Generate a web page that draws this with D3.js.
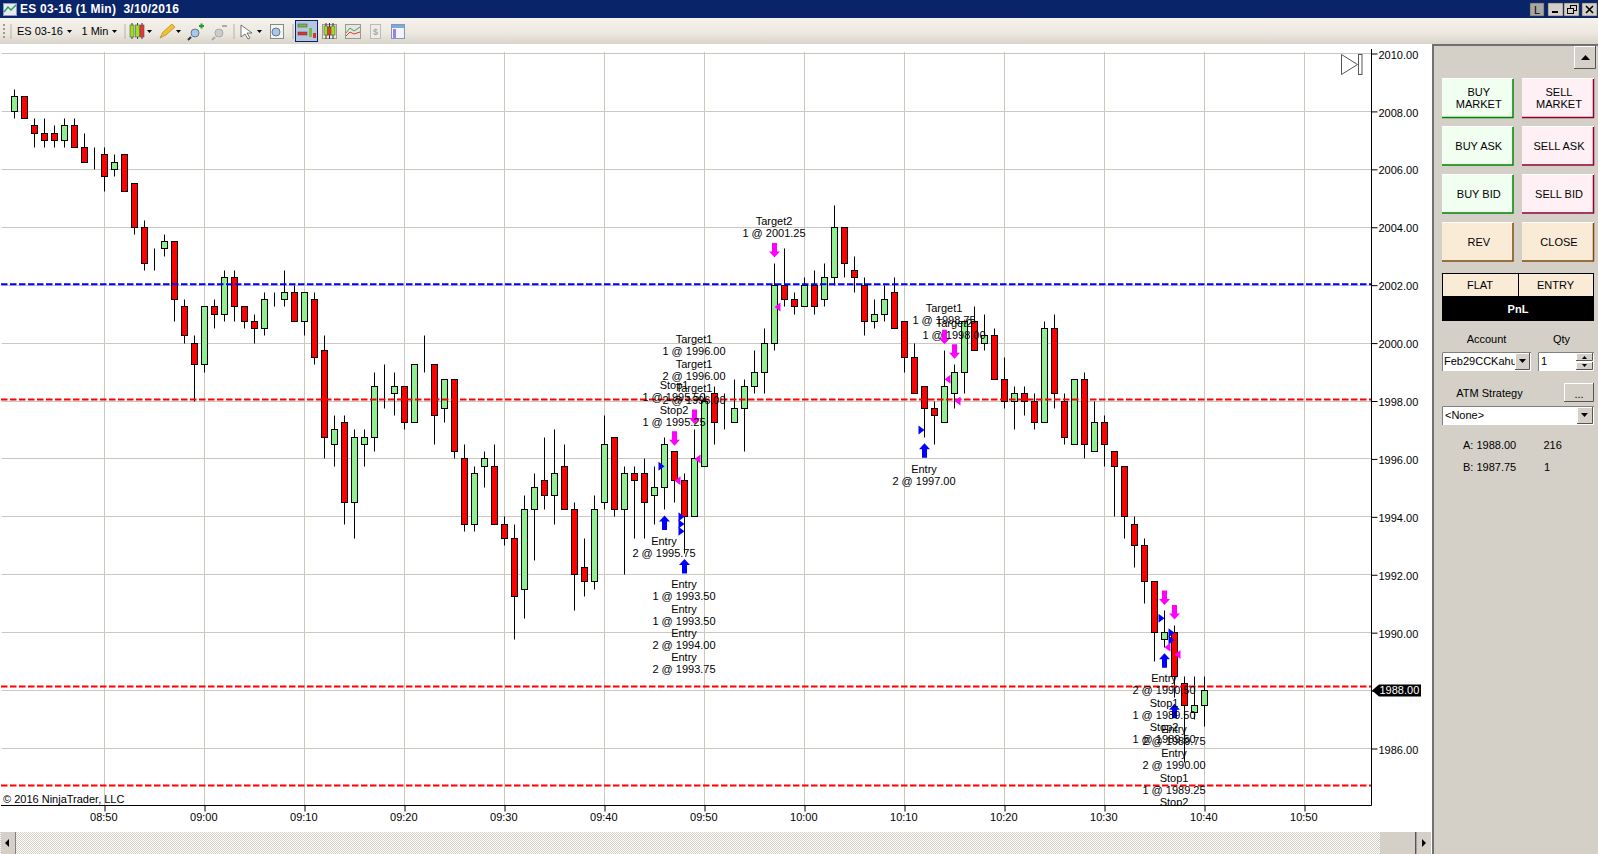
<!DOCTYPE html>
<html>
<head>
<meta charset="utf-8">
<title>ES 03-16 (1 Min)</title>
<script src="https://cdn.jsdelivr.net/npm/d3@7"></script>
<style>
  html, body { margin: 0; padding: 0; background: #fff; overflow: hidden; }
  svg { display: block; }
  text { font-family: "Liberation Sans", Arial, sans-serif; font-size: 11px; fill: #000; }
</style>
</head>
<body>
<svg id="chart" width="1598" height="854"></svg>
<script>
// one bar per minute, first bar is 08:41
var firstBar = "08:41"

var opens = [
  2008, 2008.5, 2007.5, 2007.25, 2007.25, 2007, 2007.5, 2006.75, 2006.25, 2006.5,
  2006, 2006.5, 2005.5, 2004, 2003, 2003.25, 2003.5, 2001.25, 2000, 1999.25,
  2001.25, 2001, 2002.25, 2001.25, 2000.75, 2000.5, 2001.5, 2001.5, 2001.75, 2000.75,
  2001.5, 1999.75, 1996.5, 1997.25, 1994.5, 1996.5, 1996.75, 1998.25, 1998.25, 1998.5,
  1997.25, 1999.25, 1999.25, 1997.75, 1998.75, 1996, 1993.75, 1995.75, 1995.75, 1993.75,
  1993.25, 1991.5, 1994.25, 1995.25, 1994.75, 1995.75, 1994.25, 1992.25, 1991.75, 1994.5,
  1996.75, 1994.25, 1995.5, 1995.5, 1994.75, 1995, 1996.25, 1995.25, 1994, 1995.75,
  1998.25, 1997.25, 1997.25, 1997.75, 1998.5, 1999, 2000, 2002, 2001.5, 2001.25,
  2002, 2001.5, 2002.25, 2004, 2002.5, 2002, 2000.75, 2001, 2001.75, 2000.75,
  1999.5, 1998.5, 1997.75, 1997.25, 1998.25, 1999, 2000.75, 2000, 2000.25, 1998.75,
  1998, 1998.25, 1998, 1997.25, 2000.5, 1998, 1996.5, 1998.75, 1996.25, 1997.25,
  1996.25, 1995.75, 1993.75, 1993, 1991.75, 1989.75, 1990, 1988.25, 1987.25, 1987.5
]

var highs = [
  2008.75, 2008.5, 2007.75, 2007.75, 2007.5, 2007.75, 2007.75, 2007.25, 2006.75, 2006.75,
  2006.5, 2006.5, 2005.5, 2004.25, 2003.25, 2003.75, 2003.5, 2001.5, 2000.25, 2001.25,
  2001.5, 2002.5, 2002.5, 2001.25, 2001, 2001.75, 2001.75, 2002.5, 2002, 2001.75,
  2001.75, 2000.25, 1997.5, 1997.5, 1997, 1997, 1999, 1999.25, 1999, 1998.5,
  1999.25, 2000.25, 1999.25, 1998.75, 1998.75, 1996.5, 1995.75, 1996.25, 1996.5, 1994,
  1993.75, 1994.75, 1995.5, 1996.75, 1997, 1996.5, 1994.5, 1993.25, 1994.75, 1997.5,
  1996.75, 1995.75, 1995.75, 1996, 1995.75, 1996.75, 1996.25, 1995.5, 1997, 1998.25,
  1998.5, 1998.25, 1998.75, 1998.75, 1999.75, 2000.5, 2002.75, 2003.25, 2001.75, 2002.25,
  2002.5, 2002.75, 2004.75, 2004, 2003, 2002.25, 2001.5, 2002, 2002.25, 2000.75,
  2000, 1998.5, 1998, 1999.75, 1999.25, 2000.75, 2001.25, 2001, 2000.5, 1999.5,
  1998.5, 1998.5, 1998.25, 2000.75, 2001, 1998.25, 1998.75, 1999, 1998, 1997.5,
  1996.25, 1995.75, 1994, 1993.25, 1991.75, 1990.75, 1990.25, 1988.5, 1988.5, 1988.5
]

var lows = [
  2007.75, 2007.75, 2006.75, 2006.75, 2006.75, 2006.75, 2006.75, 2006.25, 2006, 2005.25,
  2005.75, 2005.25, 2003.75, 2002.5, 2002.5, 2003, 2000.75, 2000, 1998, 1999,
  2000.5, 2000.75, 2000.75, 2000.5, 2000, 2000.25, 2001.25, 2001.25, 2000.75, 2000.25,
  1999.25, 1996, 1995.75, 1993.75, 1993.25, 1995.75, 1996.25, 1997.75, 1997.5, 1997,
  1997.25, 1999, 1996.5, 1997.25, 1996, 1993.5, 1993.5, 1995, 1993.75, 1993,
  1989.75, 1990.5, 1992.5, 1994.25, 1993.75, 1994.25, 1990.75, 1991.25, 1991.5, 1994.25,
  1994, 1992, 1993.25, 1993.25, 1993.75, 1994.25, 1994.5, 1992.75, 1994, 1995.75,
  1996.5, 1997, 1997.25, 1996.25, 1998.25, 1998.25, 1999.75, 2001.25, 2001, 2001.25,
  2001, 2001.25, 2002, 2002.25, 2001.75, 2000.25, 2000.5, 2000.75, 2000.5, 1999,
  1998.25, 1996.75, 1996.5, 1997.25, 1997.75, 1998.25, 1999.75, 1999.75, 1998.75, 1997.75,
  1997, 1997.5, 1997, 1997.25, 1997.75, 1996.5, 1996.5, 1996, 1996.25, 1995.75,
  1994, 1993.25, 1992.25, 1991, 1989, 1989.5, 1987.75, 1985.5, 1987, 1986.75
]

var closes = [
  2008.5, 2007.75, 2007.25, 2007, 2007, 2007.5, 2006.75, 2006.25, 2006.25, 2005.75,
  2006.25, 2005.25, 2004, 2002.75, 2003, 2003.5, 2001.5, 2000.25, 1999.25, 2001.25,
  2001, 2002.25, 2001.25, 2000.75, 2000.5, 2001.5, 2001.5, 2001.75, 2000.75, 2001.75,
  1999.5, 1996.75, 1997, 1994.5, 1996.75, 1996.75, 1998.5, 1998.25, 1998.5, 1997.25,
  1999.25, 1999.25, 1997.5, 1998.75, 1996.25, 1993.75, 1995.5, 1996, 1993.75, 1993.25,
  1991.25, 1994.25, 1995, 1994.75, 1995.5, 1994.25, 1992, 1991.75, 1994.25, 1996.5,
  1994.25, 1995.5, 1995.25, 1994.5, 1995, 1996.5, 1995.25, 1994, 1996, 1998,
  1997.25, 1997.25, 1997.75, 1998.5, 1999, 2000, 2002, 2001.5, 2001.25, 2002,
  2001.25, 2002.25, 2004, 2002.75, 2002.25, 2000.75, 2001, 2001.5, 2000.5, 1999.5,
  1998.25, 1997.75, 1997.5, 1998.5, 1999, 2000.75, 1999.75, 2000.25, 1998.75, 1998,
  1998.25, 1998, 1997.25, 2000.5, 1998.25, 1996.75, 1998.75, 1996.5, 1997.25, 1996.5,
  1995.75, 1994, 1993, 1991.75, 1990, 1990, 1988.5, 1987.5, 1987.5, 1988
]

var priceTicks = [1986, 1988, 1990, 1992, 1994, 1996, 1998, 2000, 2002, 2004, 2006, 2008, 2010]
var timeTicks = ["08:50", "09:00", "09:10", "09:20", "09:30", "09:40", "09:50", "10:00", "10:10", "10:20", "10:30", "10:40", "10:50"]

// drawn horizontal lines
var bluePrices = [2002.03]
var redPrices = [1998.05, 1988.14, 1984.72]
var lastPrice = 1988

// trade arrows
var entryBars = ["09:46", "09:48", "10:12", "10:36", "10:37"]
var exitBars = ["09:47", "09:49", "09:57", "10:14", "10:15", "10:36", "10:37"]

// small fill triangles
var entryFillBars = ["09:46", "09:48", "09:48", "09:48", "10:12", "10:36", "10:37", "10:37"]
var entryFillPrices = [1995.75, 1994, 1993.75, 1993.5, 1997, 1990.5, 1990, 1989.75]
var exitFillBars = ["09:47", "09:49", "09:57", "10:14", "10:15", "10:36", "10:37"]
var exitFillPrices = [1995.25, 1996, 2001.25, 1998.75, 1998, 1989.5, 1989.25]

// trade texts, below the entry arrows and above the exit arrows
var entryTexts = [
  ["Entry", "2 @ 1995.75"],
  ["Entry", "1 @ 1993.50", "Entry", "1 @ 1993.50", "Entry", "2 @ 1994.00", "Entry", "2 @ 1993.75"],
  ["Entry", "2 @ 1997.00"],
  ["Entry", "2 @ 1990.50", "Stop1", "1 @ 1989.50", "Stop2", "1 @ 1989.50"],
  ["Entry", "2 @ 1989.75", "Entry", "2 @ 1990.00", "Stop1", "1 @ 1989.25", "Stop2", "1 @ 1989.25"]
]
var exitTexts = [
  ["Stop1", "1 @ 1995.50", "Stop2", "1 @ 1995.25"],
  ["Target1", "1 @ 1996.00", "Target1", "2 @ 1996.00", "Target1", "2 @ 1996.00"],
  ["Target2", "1 @ 2001.25"],
  ["Target1", "1 @ 1998.75"],
  ["Target2", "1 @ 1998.00"],
  [],
  []
]

var svg = d3.select("#chart")
var parseTime = d3.timeParse("%H:%M")

var plotRight = 1371.5
var plotBottom = 805.5
var plotTop = 44

// 100px per ten minutes, 28.96px per point
var x = d3.scaleTime()
  .domain([parseTime("08:50"), parseTime("10:50")])
  .range([104.5, 1304.5])

var y = d3.scaleLinear()
  .domain([1986, 2010])
  .range([748.5, 53.5])

var startBar = parseTime(firstBar)
var bars = opens.map(function(o, i) {
  return {
    time: d3.timeMinute.offset(startBar, i),
    open: o, high: highs[i], low: lows[i], close: closes[i]
  }
})

function barByLabel(label) {
  var t = parseTime(label)
  return bars.find(function(b) { return +b.time === +t })
}

function py(v) { return Math.round(y(v) - 0.5) + 0.5 }

var defs = svg.append("defs")

defs.append("clipPath").attr("id", "plotClip").append("rect")
  .attr("x", 0).attr("y", plotTop).attr("width", plotRight).attr("height", plotBottom - plotTop)

var dither = defs.append("pattern").attr("id", "dither")
  .attr("width", 2).attr("height", 2).attr("patternUnits", "userSpaceOnUse")
dither.append("rect").attr("width", 2).attr("height", 2).attr("fill", "#ffffff")
dither.append("rect").attr("width", 1).attr("height", 1).attr("fill", "#d4d0c8")
dither.append("rect").attr("x", 1).attr("y", 1).attr("width", 1).attr("height", 1).attr("fill", "#d4d0c8")

var toolGrad = defs.append("linearGradient").attr("id", "toolGrad").attr("x2", 0).attr("y2", 1)
toolGrad.append("stop").attr("offset", 0).attr("stop-color", "#f5f2ec")
toolGrad.append("stop").attr("offset", 0.6).attr("stop-color", "#ece8e0")
toolGrad.append("stop").attr("offset", 1).attr("stop-color", "#d8d4ca")

/* ---- plot ---- */
svg.append("rect").attr("width", 1598).attr("height", 854).attr("fill", "#fff")

var grid = svg.append("g").attr("stroke", "#cbc9bf").attr("stroke-width", 1)

grid.selectAll(".h").data(priceTicks).enter().append("line")
  .attr("class", "h")
  .attr("x1", 1.5).attr("x2", plotRight)
  .attr("y1", py).attr("y2", py)

grid.selectAll(".v").data(timeTicks).enter().append("line")
  .attr("class", "v")
  .attr("x1", function(d) { return x(parseTime(d)) })
  .attr("x2", function(d) { return x(parseTime(d)) })
  .attr("y1", 52).attr("y2", plotBottom)

var plot = svg.append("g").attr("clip-path", "url(#plotClip)")

// wicks first, bodies over them
var candle = plot.selectAll(".bar").data(bars).enter().append("g").attr("class", "bar")

candle.append("line")
  .attr("x1", function(d) { return x(d.time) })
  .attr("x2", function(d) { return x(d.time) })
  .attr("y1", function(d) { return py(d.high) })
  .attr("y2", function(d) { return py(d.low) })
  .attr("stroke", "#000")

candle.append("rect")
  .attr("x", function(d) { return x(d.time) - 3 })
  .attr("width", 6)
  .attr("y", function(d) { return py(Math.max(d.open, d.close)) })
  .attr("height", function(d) { return py(Math.min(d.open, d.close)) - py(Math.max(d.open, d.close)) })
  .attr("fill", function(d) { return d.close > d.open ? "#90ee90" : "#ff0000" })
  .attr("stroke", "#000")
  .attr("stroke-width", 1)
  .attr("shape-rendering", "crispEdges")

function hLines(values, color) {
  plot.selectAll(".l" + color.slice(1)).data(values).enter().append("line")
    .attr("class", "l" + color.slice(1))
    .attr("x1", 1).attr("x2", plotRight)
    .attr("y1", y).attr("y2", y)
    .attr("stroke", color)
    .attr("stroke-width", 2)
    .attr("stroke-dasharray", "6.5,2.5")
}
hLines(bluePrices, "#0000ff")
hLines(redPrices, "#ff0000")

// tip at 0,0, pointing up
var arrowPath = d3.path()
arrowPath.moveTo(0, 0)
arrowPath.lineTo(5.5, 6)
arrowPath.lineTo(2.5, 6)
arrowPath.lineTo(2.5, 14.5)
arrowPath.lineTo(-2.5, 14.5)
arrowPath.lineTo(-2.5, 6)
arrowPath.lineTo(-5.5, 6)
arrowPath.closePath()

plot.selectAll(".entryArrow").data(entryBars).enter().append("path")
  .attr("class", "entryArrow")
  .attr("d", arrowPath.toString())
  .attr("fill", "#0000ff")
  .attr("transform", function(d) {
    var b = barByLabel(d)
    return "translate(" + x(b.time) + "," + (y(b.low) + 6) + ")"
  })

plot.selectAll(".exitArrow").data(exitBars).enter().append("path")
  .attr("class", "exitArrow")
  .attr("d", arrowPath.toString())
  .attr("fill", "#ff00ff")
  .attr("transform", function(d) {
    var b = barByLabel(d)
    return "translate(" + x(b.time) + "," + (y(b.high) - 6) + ") scale(1,-1)"
  })

plot.selectAll(".entryFill").data(entryFillBars).enter().append("path")
  .attr("class", "entryFill")
  .attr("d", "M0,0L-6,-4.5L-6,4.5Z")
  .attr("fill", "#0000ff")
  .attr("transform", function(d, i) {
    return "translate(" + x(parseTime(d)) + "," + y(entryFillPrices[i]) + ")"
  })

plot.selectAll(".exitFill").data(exitFillBars).enter().append("path")
  .attr("class", "exitFill")
  .attr("d", "M0,0L6,-4.5L6,4.5Z")
  .attr("fill", "#ff00ff")
  .attr("transform", function(d, i) {
    return "translate(" + x(parseTime(d)) + "," + y(exitFillPrices[i]) + ")"
  })

// text stacks: 12px per line, pairs are a little further apart
function stackY(k) { return Math.floor(k / 2) * 24.3 + (k % 2) * 12 }

entryBars.forEach(function(label, n) {
  var b = barByLabel(label)
  var top = y(b.low) + 6 + 14.5 + 11
  entryTexts[n].forEach(function(t, k) {
    plot.append("text")
      .attr("x", x(b.time) - 0.5).attr("y", top + stackY(k)).attr("dy", "0.35em")
      .attr("text-anchor", "middle")
      .text(t)
  })
})

exitBars.forEach(function(label, n) {
  var b = barByLabel(label)
  var bottom = y(b.high) - 6 - 14.5 - 9.5
  var lines = exitTexts[n]
  lines.forEach(function(t, k) {
    plot.append("text")
      .attr("x", x(b.time) - 0.5)
      .attr("y", bottom - (stackY(lines.length - 1) - stackY(k))).attr("dy", "0.35em")
      .attr("text-anchor", "middle")
      .text(t)
  })
})

svg.append("text").attr("x", 3).attr("y", 799.5).attr("dy", "0.35em").text("© 2016 NinjaTrader, LLC")

/* ---- axes ---- */
var xAxis = d3.axisBottom(x)
  .tickValues(timeTicks.map(parseTime))
  .tickFormat(d3.timeFormat("%H:%M"))
  .tickSize(6)
  .tickPadding(2)

var yAxis = d3.axisRight(y)
  .tickValues(priceTicks)
  .tickFormat(d3.format(".2f"))
  .tickSize(6)
  .tickPadding(1)

var xg = svg.append("g").attr("transform", "translate(0," + plotBottom + ")").call(xAxis)
var yg = svg.append("g").attr("transform", "translate(" + plotRight + ",0)").call(yAxis)

xg.select(".domain").remove()
yg.select(".domain").remove()
xg.attr("font-family", null).attr("font-size", null)
yg.attr("font-family", null).attr("font-size", null)
xg.selectAll("text").attr("dx", -1.2)
yg.selectAll("text").attr("dy", "0.42em")

svg.append("path")
  .attr("d", "M1," + plotBottom + "H" + plotRight + "V49")
  .attr("fill", "none").attr("stroke", "#000")

// last price flag
var flagY = y(lastPrice)
svg.append("path")
  .attr("d", "M1372," + flagY + "l7,-6h42v12h-42z")
  .attr("fill", "#000")
svg.append("text")
  .attr("x", 1379.5).attr("y", flagY).attr("dy", "0.35em")
  .style("fill", "#fff")
  .text(d3.format(".2f")(lastPrice))

// the ">|" marker top right of the plot
svg.append("path").attr("d", "M1341.5,54.5L1357.5,64.5L1341.5,74.5Z")
  .attr("fill", "#fff").attr("stroke", "#555")
svg.append("rect").attr("x", 1358.5).attr("y", 54.5).attr("width", 3.5).attr("height", 20)
  .attr("fill", "#fff").attr("stroke", "#555")

/* ---- window chrome ---- */
svg.append("rect").attr("width", 1598).attr("height", 18).attr("fill", "#0a246a")
svg.append("text").attr("x", 20).attr("y", 9).attr("dy", "0.35em")
  .style("fill", "#fff").style("font-weight", "bold").style("font-size", "12px").style("letter-spacing", "0.26px")
  .text("ES 03-16 (1 Min)\u00a0\u00a03/10/2016")

// window icon
svg.append("rect").attr("x", 3.5).attr("y", 3.5).attr("width", 13).attr("height", 12).attr("fill", "#e8e8f4").attr("stroke", "#8a9ac0")
svg.append("path").attr("d", "M4,12L8,7L11,10L16,5").attr("fill", "none").attr("stroke", "#2aa050").attr("stroke-width", 1.5)

function winButton(bx, w, fill) {
  svg.append("rect").attr("x", bx).attr("y", 3).attr("width", w).attr("height", 13)
    .attr("fill", fill).attr("stroke", "#404040").attr("stroke-width", 0.5)
}
winButton(1530, 14, "#a8a8a0")
winButton(1548, 15, "#d4d0c8")
winButton(1564, 15, "#d4d0c8")
winButton(1582, 15, "#d4d0c8")
svg.append("text").attr("x", 1537).attr("y", 10).attr("dy", "0.35em").attr("text-anchor", "middle").text("L")
svg.append("rect").attr("x", 1552).attr("y", 11).attr("width", 6).attr("height", 2).attr("fill", "#000")
svg.append("rect").attr("x", 1570.5).attr("y", 5.5).attr("width", 6).attr("height", 5).attr("fill", "none").attr("stroke", "#000")
svg.append("rect").attr("x", 1567.5).attr("y", 8.5).attr("width", 6).attr("height", 5).attr("fill", "#d4d0c8").attr("stroke", "#000")
svg.append("path").attr("d", "M1586,6L1593,13M1593,6L1586,13").attr("stroke", "#000").attr("stroke-width", 1.6)

// toolbar
svg.append("rect").attr("y", 18).attr("width", 1598).attr("height", 26).attr("fill", "url(#toolGrad)")

function sep(sx) {
  svg.append("line").attr("x1", sx).attr("x2", sx).attr("y1", 24).attr("y2", 39).attr("stroke", "#b5b2a8")
}
function dropDown(dx) {
  svg.append("path").attr("d", "M" + dx + ",30h5l-2.5,3z").attr("fill", "#000")
}
sep(11); sep(125); sep(234); sep(293)
svg.selectAll(".grip").data([22, 26, 30, 34]).enter().append("rect").attr("class", "grip")
  .attr("x", 3).attr("y", function(d) { return d + 2 }).attr("width", 2).attr("height", 2).attr("fill", "#a09c90")

svg.append("text").attr("x", 17).attr("y", 31).attr("dy", "0.35em").text("ES 03-16")
svg.append("text").attr("x", 81.5).attr("y", 31).attr("dy", "0.35em").text("1 Min")
dropDown(67); dropDown(112); dropDown(147); dropDown(176); dropDown(257)

// toolbar candles icon
function toolCandle(cx, top, h, fill) {
  svg.append("line").attr("x1", cx).attr("x2", cx).attr("y1", 23).attr("y2", 39).attr("stroke", "#333")
  svg.append("rect").attr("x", cx - 2).attr("y", top).attr("width", 4).attr("height", h)
    .attr("fill", fill).attr("stroke", "#555").attr("stroke-width", 0.6)
}
toolCandle(132, 25, 12, "#9ce01c"); toolCandle(137.5, 25, 12, "#9ce01c"); toolCandle(142, 25, 12, "#ee3333")

// pencil
svg.append("path").attr("d", "M160,38L163,32L172,24L175,27L166,35Z").attr("fill", "#f5c030").attr("stroke", "#a07818").attr("stroke-width", 0.6)
// zoom in, zoom out
svg.append("circle").attr("cx", 195).attr("cy", 33).attr("r", 4).attr("fill", "#a8c8e8").attr("stroke", "#607890")
svg.append("path").attr("d", "M191,37L188,40").attr("stroke", "#333").attr("stroke-width", 2)
svg.append("path").attr("d", "M199,26h5M201.5,23.5v5").attr("stroke", "#20a030").attr("stroke-width", 2)
svg.append("circle").attr("cx", 219).attr("cy", 33).attr("r", 4).attr("fill", "#ccc").attr("stroke", "#aaa")
svg.append("path").attr("d", "M215,37L212,40").attr("stroke", "#aaa").attr("stroke-width", 2)
svg.append("path").attr("d", "M222,26h5").attr("stroke", "#aaa").attr("stroke-width", 2)
// cursor
svg.append("path").attr("d", "M241,25L252,33L247,33L250,38L248,39L245,34L241,37Z").attr("fill", "#fff").attr("stroke", "#555").attr("stroke-width", 0.8)
// magnifier page
svg.append("rect").attr("x", 270.5).attr("y", 24.5).attr("width", 13).attr("height", 14).attr("fill", "#f4f4f0").attr("stroke", "#888")
svg.append("circle").attr("cx", 276).attr("cy", 32).attr("r", 4).attr("fill", "#a8c8e8").attr("stroke", "#607890")

// selected chart-trader button
svg.append("rect").attr("x", 295.5).attr("y", 20.5).attr("width", 22).attr("height", 21).attr("fill", "#b5c6de").attr("stroke", "#0a246a")
svg.append("rect").attr("x", 298).attr("y", 24).attr("width", 9).attr("height", 3).attr("fill", "#70c040").attr("stroke", "#444").attr("stroke-width", 0.5)
svg.append("rect").attr("x", 298).attr("y", 32).attr("width", 9).attr("height", 3).attr("fill", "#e03030").attr("stroke", "#444").attr("stroke-width", 0.5)
svg.append("rect").attr("x", 309).attr("y", 28).attr("width", 3).attr("height", 9).attr("fill", "#70c040")
svg.append("rect").attr("x", 313).attr("y", 33).attr("width", 3).attr("height", 5).attr("fill", "#e03030")

// other toolbar buttons
svg.append("rect").attr("x", 322.5).attr("y", 24.5).attr("width", 14).attr("height", 14).attr("fill", "#eeeae0").attr("stroke", "#999")
toolCandle(326, 26, 9, "#9ce01c"); toolCandle(329.5, 27, 8, "#ee3333"); toolCandle(333, 26, 9, "#9ce01c")
svg.append("rect").attr("x", 345.5).attr("y", 24.5).attr("width", 15).attr("height", 14).attr("fill", "#e8e6dc").attr("stroke", "#999")
svg.append("path").attr("d", "M346,33L350,28L354,31L360,27").attr("fill", "none").attr("stroke", "#40a060")
svg.append("path").attr("d", "M346,36L350,32L354,34L360,32").attr("fill", "none").attr("stroke", "#d04040")
svg.append("rect").attr("x", 370.5).attr("y", 24.5).attr("width", 10).attr("height", 14).attr("fill", "#eeece6").attr("stroke", "#bbb")
svg.append("text").attr("x", 375.5).attr("y", 32).attr("dy", "0.35em").attr("text-anchor", "middle").style("fill", "#aaa").style("font-size", "9px").style("font-weight", "bold").text("$")
svg.append("rect").attr("x", 391.5).attr("y", 24.5).attr("width", 13).attr("height", 14).attr("fill", "#f2f2f8").attr("stroke", "#8098c0")
svg.append("rect").attr("x", 392).attr("y", 25).attr("width", 12).attr("height", 3).attr("fill", "#80a8d8")
svg.append("rect").attr("x", 393).attr("y", 29).attr("width", 3).attr("height", 9).attr("fill", "#a080e0")

// bottom scrollbar
svg.append("rect").attr("y", 832).attr("width", 1431).attr("height", 22).attr("fill", "url(#dither)")
svg.append("rect").attr("x", 1).attr("y", 832).attr("width", 14).attr("height", 22).attr("fill", "#d4d0c8")
svg.append("line").attr("x1", 15.5).attr("x2", 15.5).attr("y1", 832).attr("y2", 854).attr("stroke", "#808080")
svg.append("path").attr("d", "M9,839v8l-4,-4z").attr("fill", "#000")
svg.append("rect").attr("x", 1380).attr("y", 832).attr("width", 35).attr("height", 22).attr("fill", "#d4d0c8")
svg.append("rect").attr("x", 1415).attr("y", 832).attr("width", 1.5).attr("height", 22).attr("fill", "#555")
svg.append("rect").attr("x", 1417).attr("y", 832).attr("width", 14).attr("height", 22).attr("fill", "#d4d0c8")
svg.append("path").attr("d", "M1422,839v8l4,-4z").attr("fill", "#000")

/* ---- side panel ---- */
svg.append("rect").attr("x", 1433).attr("y", 44).attr("width", 165).attr("height", 810).attr("fill", "#d4d0c8")
svg.append("path").attr("d", "M1433,854V45H1598").attr("fill", "none").attr("stroke", "#707070").attr("stroke-width", 2)

function sunken(bx, by, w, h) {
  svg.append("rect").attr("x", bx).attr("y", by).attr("width", w).attr("height", h).attr("fill", "#fff")
  svg.append("path").attr("d", "M" + (bx + 0.5) + "," + (by + h) + "V" + (by + 0.5) + "H" + (bx + w))
    .attr("fill", "none").attr("stroke", "#808080")
}

function raised(bx, by, w, h) {
  svg.append("rect").attr("x", bx).attr("y", by).attr("width", w).attr("height", h).attr("fill", "#d4d0c8")
  svg.append("path").attr("d", "M" + (bx + 0.5) + "," + (by + h) + "V" + (by + 0.5) + "H" + (bx + w)).attr("fill", "none").attr("stroke", "#fff")
  svg.append("path").attr("d", "M" + (bx + w - 0.5) + "," + by + "V" + (by + h - 0.5) + "H" + bx).attr("fill", "none").attr("stroke", "#555")
}

function tradeButton(bx, by, w, h, fill, edge, lines) {
  svg.append("rect").attr("x", bx).attr("y", by).attr("width", w).attr("height", h).attr("fill", fill)
  svg.append("path").attr("d", "M" + (bx + w - 0.5) + "," + by + "V" + (by + h - 0.5) + "H" + bx)
    .attr("fill", "none").attr("stroke", edge).attr("stroke-width", 1.5)
  svg.append("line").attr("x1", bx).attr("x2", bx + w).attr("y1", by + 0.5).attr("y2", by + 0.5).attr("stroke", "#fff")
  lines.forEach(function(t, i) {
    svg.append("text").attr("x", bx + w / 2 + 1).attr("y", by + h / 2 + (i - (lines.length - 1) / 2) * 12).attr("dy", "0.35em")
      .attr("text-anchor", "middle").text(t)
  })
}

raised(1574, 46, 22, 23)
svg.append("path").attr("d", "M1581,60h9l-4.5,-5z").attr("fill", "#000")

var buy = "#f0fff0", buyEdge = "#008000"
var sell = "#fff0f5", sellEdge = "#8b0030"
var flat = "#faebd7", flatEdge = "#7a4a10"

tradeButton(1442, 78, 71.5, 40, buy, buyEdge, ["BUY", "MARKET"])
tradeButton(1522, 78, 72, 40, sell, sellEdge, ["SELL", "MARKET"])
tradeButton(1442, 126, 71.5, 39.5, buy, buyEdge, ["BUY ASK"])
tradeButton(1522, 126, 72, 39.5, sell, sellEdge, ["SELL ASK"])
tradeButton(1442, 174, 71.5, 39.5, buy, buyEdge, ["BUY BID"])
tradeButton(1522, 174, 72, 39.5, sell, sellEdge, ["SELL BID"])
tradeButton(1442, 222, 71.5, 39.5, flat, flatEdge, ["REV"])
tradeButton(1522, 222, 72, 39.5, flat, flatEdge, ["CLOSE"])

// position box
svg.append("rect").attr("x", 1442.5).attr("y", 273.5).attr("width", 151).attr("height", 23).attr("fill", "#faebd7").attr("stroke", "#000")
svg.append("line").attr("x1", 1518.5).attr("x2", 1518.5).attr("y1", 273).attr("y2", 296).attr("stroke", "#000")
svg.append("rect").attr("x", 1442).attr("y", 296).attr("width", 152).attr("height", 25).attr("fill", "#000")
svg.append("text").attr("x", 1480).attr("y", 285).attr("dy", "0.35em").attr("text-anchor", "middle").text("FLAT")
svg.append("text").attr("x", 1555.5).attr("y", 285).attr("dy", "0.35em").attr("text-anchor", "middle").text("ENTRY")
svg.append("text").attr("x", 1518).attr("y", 309).attr("dy", "0.35em").attr("text-anchor", "middle")
  .style("fill", "#fff").style("font-weight", "bold").text("PnL")

svg.append("text").attr("x", 1486.5).attr("y", 339.5).attr("dy", "0.35em").attr("text-anchor", "middle").text("Account")
svg.append("text").attr("x", 1561.5).attr("y", 339.5).attr("dy", "0.35em").attr("text-anchor", "middle").text("Qty")

sunken(1442, 352, 89, 19)
svg.append("text").attr("x", 1444).attr("y", 361.5).attr("dy", "0.35em").text("Feb29CCKahu")
raised(1515, 353, 15, 17)
svg.append("path").attr("d", "M1519,359h7l-3.5,4z").attr("fill", "#000")

sunken(1538, 352, 56, 19)
svg.append("text").attr("x", 1541).attr("y", 361.5).attr("dy", "0.35em").text("1")
raised(1576, 353, 17, 8)
raised(1576, 362, 17, 8)
svg.append("path").attr("d", "M1582,359h5l-2.5,-3z").attr("fill", "#000")
svg.append("path").attr("d", "M1582,364h5l-2.5,3z").attr("fill", "#000")

svg.append("text").attr("x", 1489.5).attr("y", 393.5).attr("dy", "0.35em").attr("text-anchor", "middle").text("ATM Strategy")
raised(1564, 383, 30, 19)
svg.append("text").attr("x", 1579).attr("y", 394).attr("dy", "0.35em").attr("text-anchor", "middle").text("...")

sunken(1442, 406, 152, 19)
svg.append("text").attr("x", 1445).attr("y", 415.5).attr("dy", "0.35em").text("<None>")
raised(1577, 407, 16, 17)
svg.append("path").attr("d", "M1581,413h7l-3.5,4z").attr("fill", "#000")

svg.append("text").attr("x", 1463).attr("y", 445).attr("dy", "0.35em").text("A: 1988.00")
svg.append("text").attr("x", 1543.5).attr("y", 445).attr("dy", "0.35em").text("216")
svg.append("text").attr("x", 1463).attr("y", 467.5).attr("dy", "0.35em").text("B: 1987.75")
svg.append("text").attr("x", 1544).attr("y", 467.5).attr("dy", "0.35em").text("1")
</script>
</body>
</html>
